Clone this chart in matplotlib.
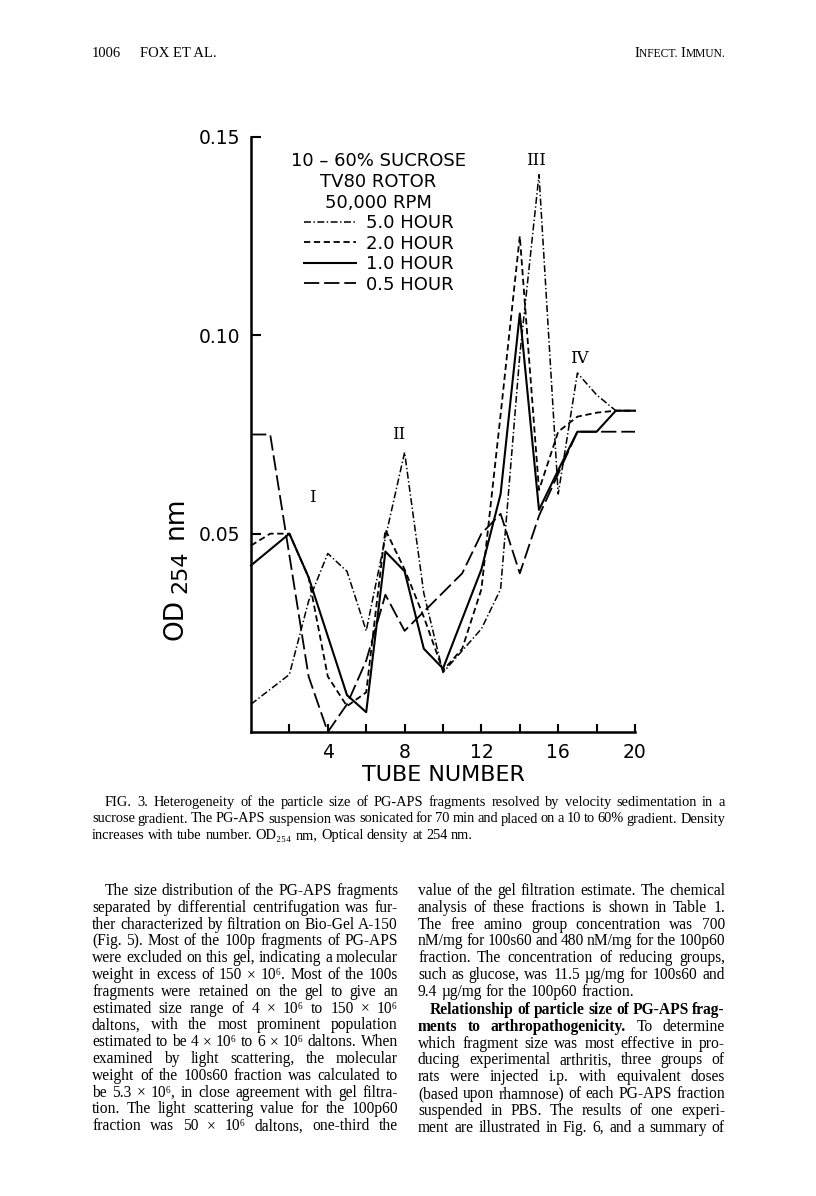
import matplotlib
matplotlib.use('Agg')
import matplotlib.pyplot as plt

# page size in pixels (dpi 100)
W, H = 816, 1196

# OD254 readings per tube, one list per centrifugation time
tubes_5h = [0, 2, 3, 4, 5, 6, 7, 8, 9, 10, 11, 12, 13, 14, 15, 16, 17, 18, 19, 20]
od_5h = [0.007, 0.0145, 0.033, 0.045, 0.0405, 0.0255, 0.049, 0.0705, 0.035, 0.015,
         0.0205, 0.026, 0.036, 0.095, 0.1405, 0.060, 0.0905, 0.085, 0.081, 0.081]

tubes_2h = [0, 1, 2, 3, 4, 5, 6, 7, 8, 9, 10, 11, 12, 13, 14, 15, 16, 17, 18, 19, 20]
od_2h = [0.047, 0.050, 0.050, 0.039, 0.014, 0.0065, 0.010, 0.051, 0.041, 0.029, 0.0155,
         0.021, 0.036, 0.080, 0.125, 0.061, 0.0757, 0.0795, 0.0805, 0.081, 0.081]

tubes_1h = [0, 2, 3, 5, 6, 7, 8, 9, 10, 12, 13, 14, 15, 16, 17, 18, 19, 20]
od_1h = [0.042, 0.050, 0.039, 0.0093, 0.005, 0.0455, 0.0405, 0.021, 0.016, 0.041,
         0.060, 0.1055, 0.056, 0.066, 0.0757, 0.0757, 0.081, 0.081]

tubes_05h = [0, 1, 3, 4, 5, 6, 7, 8, 11, 12, 13, 14, 15, 17, 20]
od_05h = [0.075, 0.075, 0.014, 0.0, 0.007, 0.018, 0.0346, 0.0255, 0.040, 0.050,
          0.055, 0.040, 0.0545, 0.0757, 0.0757]

peak_labels = ['I', 'II', 'III', 'IV']
peak_pos = [(3.2, 0.059), (7.7, 0.075), (14.85, 0.1442), (17.1, 0.0942)]

legend_title = '10 \u2013 60% SUCROSE\nTV80 ROTOR\n50,000 RPM'

header_left = ['1006', 'FOX ET AL.']
caption = [
    'FIG. 3. Heterogeneity of the particle size of PG-APS fragments resolved by velocity sedimentation in a',
    'sucrose gradient. The PG-APS suspension was sonicated for 70 min and placed on a 10 to 60% gradient. Density',
    'increases with tube number. OD\u2082\u2085\u2084 nm, Optical density at 254 nm.',
]
col_left = [
    'The size distribution of the PG-APS fragments',
    'separated by differential centrifugation was fur-',
    'ther characterized by filtration on Bio-Gel A-150',
    '(Fig. 5). Most of the 100p fragments of PG-APS',
    'were excluded on this gel, indicating a molecular',
    'weight in excess of 150 \u00d7 10\u2076. Most of the 100s',
    'fragments were retained on the gel to give an',
    'estimated size range of 4 \u00d7 10\u2076 to 150 \u00d7 10\u2076',
    'daltons, with the most prominent population',
    'estimated to be 4 \u00d7 10\u2076 to 6 \u00d7 10\u2076 daltons. When',
    'examined by light scattering, the molecular',
    'weight of the 100s60 fraction was calculated to',
    'be 5.3 \u00d7 10\u2076, in close agreement with gel filtra-',
    'tion. The light scattering value for the 100p60',
    'fraction was 50 \u00d7 10\u2076 daltons, one-third the',
]
col_right = [
    'value of the gel filtration estimate. The chemical',
    'analysis of these fractions is shown in Table 1.',
    'The free amino group concentration was 700',
    'nM/mg for 100s60 and 480 nM/mg for the 100p60',
    'fraction. The concentration of reducing groups,',
    'such as glucose, was 11.5 \u00b5g/mg for 100s60 and',
    '9.4 \u00b5g/mg for the 100p60 fraction.',
    'Relationship of particle size of PG-APS frag-',
    'ments to arthropathogenicity. To determine',
    'which fragment size was most effective in pro-',
    'ducing experimental arthritis, three groups of',
    'rats were injected i.p. with equivalent doses',
    '(based upon rhamnose) of each PG-APS fraction',
    'suspended in PBS. The results of one experi-',
    'ment are illustrated in Fig. 6, and a summary of',
]
# number of leading bold words per right-column line
bold_right = [0, 0, 0, 0, 0, 0, 0, 7, 3, 0, 0, 0, 0, 0, 0]

SERIF = ['Liberation Serif', 'DejaVu Serif']
SANS = ['DejaVu Sans']

plt.rcParams['lines.scale_dashes'] = False
fig = plt.figure(figsize=(W / 100, H / 100), dpi=100)
renderer = fig.canvas.get_renderer()


def fx(x):
    return x / W


def fy(y):
    return 1 - y / H


def put_line(x0, x1, y, text, size, bold=0, justify=True):
    # lay out one line word by word; shrink the font a little if it would not fit
    words = text.split(' ')
    while True:
        ts = []
        for i, w in enumerate(words):
            t = fig.text(fx(x0), fy(y), w, fontsize=size, family=SERIF,
                         weight='bold' if i < bold else 'normal', va='baseline')
            ts.append(t)
        ws = [t.get_window_extent(renderer).width for t in ts]
        space = size * 0.25 * 100 / 72
        if justify and len(words) > 1:
            gap = (x1 - x0 - sum(ws)) / (len(words) - 1)
            if gap < 0.6 * space and size > 7:
                for t in ts:
                    t.remove()
                size -= 0.2
                continue
        else:
            gap = space
        break
    x = x0
    for t, w in zip(ts, ws):
        t.set_x(fx(x))
        x += w + gap


def put_run(x, y, pieces, right=False):
    # pieces of (text, size) set side by side, e.g. for small caps
    ts = [fig.text(0, fy(y), s, fontsize=sz, family=SERIF, va='baseline') for s, sz in pieces]
    ws = [t.get_window_extent(renderer).width for t in ts]
    if right:
        x = x - sum(ws)
    for t, w in zip(ts, ws):
        t.set_x(fx(x))
        x += w


# ---- chart ----
ax = fig.add_axes([fx(251), fy(732), (635 - 251) / W, (732 - 137) / H])
ax.plot(tubes_5h, od_5h, color='black', lw=1.1, dashes=(5, 1.8, 1, 1.8),
        label='5.0 HOUR', clip_on=False)
ax.plot(tubes_2h, od_2h, color='black', lw=1.3, dashes=(4.5, 2.6),
        label='2.0 HOUR', clip_on=False)
ax.plot(tubes_1h, od_1h, color='black', lw=1.5, label='1.0 HOUR', clip_on=False)
ax.plot(tubes_05h, od_05h, color='black', lw=1.3, dashes=(11, 3.5),
        label='0.5 HOUR', clip_on=False)

ax.set_xlim(0, 20)
ax.set_ylim(0, 0.15)
ax.spines['top'].set_visible(False)
ax.spines['right'].set_visible(False)
ax.spines['left'].set_linewidth(1.8)
ax.spines['bottom'].set_linewidth(1.8)
ax.set_yticks([0.05, 0.10, 0.15])
ax.set_yticklabels(['0.05', '0.10', '0.15'])
ax.set_xticks([4, 8, 12, 16, 20])
ax.set_xticks([2, 6, 10, 14, 18], minor=True)
ax.tick_params(axis='both', which='both', direction='in', width=1.5,
               labelsize=13.5, pad=8)
ax.tick_params(axis='y', length=7)
ax.tick_params(axis='x', which='both', length=6)
for lab in ax.get_xticklabels() + ax.get_yticklabels():
    lab.set_family(SANS)
ax.set_xlabel('TUBE NUMBER', fontsize=16, family=SANS, labelpad=2)

# y label with a full-size, lowered subscript (drawn as three rotated pieces)
fig.text(fx(176), fy(619), 'OD', rotation=90, fontsize=19, family=SANS,
         ha='center', va='center')
fig.text(fx(180), fy(572), '254', rotation=90, fontsize=16, family=SANS,
         ha='center', va='center')
fig.text(fx(176), fy(518), 'nm', rotation=90, fontsize=19, family=SANS,
         ha='center', va='center')

for lab, (px, py) in zip(peak_labels, peak_pos):
    ax.text(px, py, lab, fontsize=12, family='DejaVu Serif', ha='center', va='center')

leg = ax.legend(title=legend_title, loc='upper left', frameon=False,
                bbox_to_anchor=(fx(291), fy(152)), bbox_transform=fig.transFigure,
                borderpad=0, borderaxespad=0, fontsize=13, title_fontsize=13,
                handlelength=2.9, handletextpad=0.55, labelspacing=0.14)
leg.get_title().set_multialignment('center')
for t in leg.get_texts() + [leg.get_title()]:
    t.set_family(SANS)

# ---- page text ----
fig.text(fx(92), fy(57), header_left[0], fontsize=10.5, family=SERIF, va='baseline')
fig.text(fx(140), fy(57), header_left[1], fontsize=10.5, family=SERIF, va='baseline')
put_run(725, 57, [('I', 10.5), ('NFECT. ', 8.3), ('I', 10.5), ('MMUN.', 8.3)], right=True)

cap_y = [806, 822.5, 839]
put_line(105, 725, cap_y[0], caption[0], 10.4)
put_line(92, 725, cap_y[1], caption[1], 10.4)
put_line(92, 725, cap_y[2], caption[2], 10.4, justify=False)

for i, line in enumerate(col_left):
    y = 895 + 16.8 * i
    x0 = 105 if i == 0 else 92
    put_line(x0, 398, y, line, 11.2)

for i, line in enumerate(col_right):
    y = 895 + 16.8 * i + (1.5 if i >= 7 else 0)
    x0 = 430 if i == 7 else 418
    put_line(x0, 725, y, line, 11.2, bold=bold_right[i], justify=(i != 6))

fig.savefig('out.png', dpi=100)
